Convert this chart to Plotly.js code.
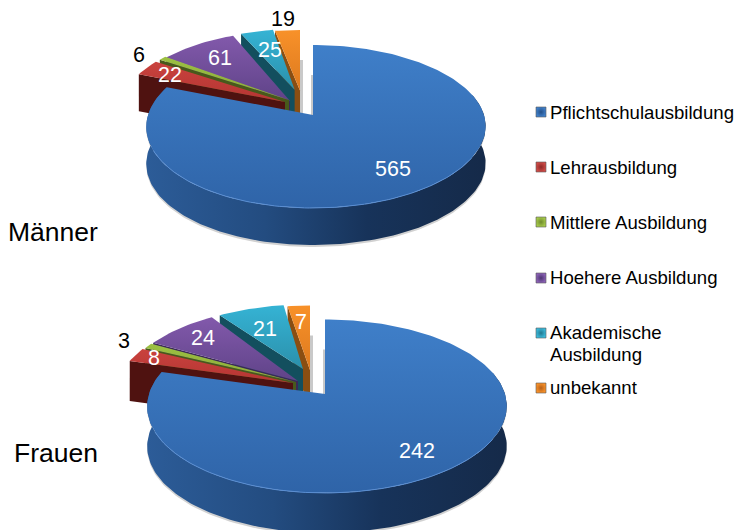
<!DOCTYPE html>
<html><head><meta charset="utf-8">
<script src="https://cdn.plot.ly/plotly-3.0.1.min.js"></script>
<style>html,body{margin:0;padding:0;background:#fff;overflow:hidden}#c{width:737px;height:530px}</style>
</head><body><div id="c"></div>
<script>
// ---- data ----
const categories = ['Pflichtschulausbildung','Lehrausbildung','Mittlere Ausbildung','Hoehere Ausbildung','Akademische<br>Ausbildung','unbekannt'];
const maenner = [565,22,6,61,25,19];
const frauen  = [242,8,3,24,21,7];
const groupLabels = ['Männer','Frauen'];

// ---- styles ----
const topColors = [['#2f64a8','#3f7fc9'],['#b53532','#c9423e'],['#8aab37','#9cc043'],['#5f4388','#8259ab'],['#2b90ab','#35b3d4'],['#dd7a1f','#f89129']];
const faceColors = ['#1d3f6e','#4f1210','#48591b','#3a2957','#134f5e','#8a4e12'];
const legendColors = ['#3f7fc9','#cf4a46','#a5c94a','#8a60b5','#3ab9da','#f89129'];
const legendEdge = ['#244f86','#8c2a28','#6f8a2c','#4d3670','#22778e','#b5601a'];
const persp = 0.141;
const tipR = [0,0,0,0,0.12,0.12];
const pies = [
 {vals:maenner, cx:313, cy:115, R:168, Rk:79.9, bulge:3, depth:37,
  off:[[0,0],[-28,-13],[-24,-15],[-23,-14],[-15,-16],[-13,-15]],
  lab:[[393,169],[170,75],[139,55],[220,58],[270,50],[283,19]], labWhite:[1,1,0,1,1,0]},
 {vals:frauen, cx:325, cy:394, R:178, Rk:85, bulge:2, depth:40,
  off:[[0,0],[-32,-11],[-29,-12],[-27,-13],[-19,-15],[-15,-14]],
  lab:[[417,451],[154,358],[124,341],[203,338],[265,329],[301,322]], labWhite:[1,1,0,1,1,1]}
];
const legendY = [112,167,222,278,333,388];
const legendTextY = [112,167,222,277,[332,354],387];

const traces = [], annotations = [];
const txt = (x,y,t,size,color,extra)=>annotations.push(Object.assign({x,y,text:t,showarrow:false,xref:'x',yref:'y',
  font:{family:'Liberation Sans, Arial, sans-serif',size,color}},extra||{}));

function proj(p,ox,oy,r,deg){
  const a = deg*Math.PI/180, s=Math.sin(a), c=Math.cos(a), w=1+persp*r*c;
  return [p.cx+ox+p.R*r*s/w + p.bulge*r*s*s, p.cy+oy-p.Rk*r*c/w];
}
function arc(p,ox,oy,a0,a1){ const n=Math.max(2,Math.ceil(Math.abs(a1-a0)/1.5)),pts=[];
  for(let i=0;i<=n;i++) pts.push(proj(p,ox,oy,1,a0+(a1-a0)*i/n)); return pts; }
function poly(pts,style){ traces.push(Object.assign({type:'scatter',mode:'lines',x:pts.map(q=>q[0]).concat(pts[0][0]),y:pts.map(q=>q[1]).concat(pts[0][1]),
  fill:'toself',line:{width:0},hoverinfo:'skip',showlegend:false},style)); }

pies.forEach(p=>{
  const depth=p.depth, down = pts=>pts.map(q=>[q[0],q[1]+depth]).reverse();
  const total = p.vals.reduce((a,b)=>a+b,0);
  // angles: first slice runs clockwise from 12 o'clock, the rest follow
  let ang=[0]; p.vals.forEach(v=>ang.push(ang[ang.length-1]+v/total*360));
  // thin grey shadows behind the gaps
  const last=p.vals.length-1, oTop=proj(p,p.off[last][0],p.off[last][1],1,360), bTop=proj(p,0,0,1,0);
  poly([[oTop[0],oTop[1]+30],[oTop[0]+3,oTop[1]+30],[oTop[0]+3,p.cy],[oTop[0],p.cy]],{fillcolor:'#c9c9c9'});
  poly([[bTop[0]-2,bTop[1]+30],[bTop[0],bTop[1]+30],[bTop[0],p.cy],[bTop[0]-2,p.cy]],{fillcolor:'#c9c9c9'});
  // draw back slices from the last one to the first
  for(let i=last;i>=1;i--){
    const [ox,oy]=p.off[i], a0=ang[i], a1=ang[i+1];
    const tip=proj(p,ox,oy,tipR[i],a1), rimStart=proj(p,ox,oy,1,a0);
    poly([tip,rimStart,[rimStart[0],rimStart[1]+depth],[tip[0],tip[1]+depth]],{fillcolor:faceColors[i]});
    poly([tip].concat(arc(p,ox,oy,a0,a1)),{fillgradient:{type:'vertical',colorscale:[[0,topColors[i][0]],[1,topColors[i][1]]]}});
  }
  // main slice
  const a0=ang[0], a1=ang[1], rim=arc(p,0,0,a0,a1);
  const wallArc=arc(p,0,0,75,a1>270?a1:270);
  poly(wallArc.map(q=>[q[0],q[1]+2]).concat(down(wallArc).map(q=>[q[0],q[1]+2])),{fillcolor:'rgba(90,90,90,0.28)'});
  poly(wallArc.concat(down(wallArc)),{fillgradient:{type:'horizontal',colorscale:[[0,'#2c5c98'],[0.35,'#234c80'],[0.65,'#17335a'],[1,'#152a49']]}});
  poly([proj(p,0,0,0,0)].concat(rim),{fillgradient:{type:'vertical',colorscale:[[0,'#2f64a8'],[1,'#3f7fc9']]}});
  const hl=arc(p,0,0,120,245);
  traces.push({type:'scatter',mode:'lines',x:hl.map(q=>q[0]),y:hl.map(q=>q[1]),line:{color:'#5a8ed2',width:1},hoverinfo:'skip',showlegend:false});
  p.vals.forEach((v,i)=>txt(p.lab[i][0],p.lab[i][1],String(v),21.5,p.labWhite[i]?'#ffffff':'#000000'));
});
txt(53,232,groupLabels[0],26.5,'#000000');
txt(56,453,groupLabels[1],26.5,'#000000');

// legend drawn with the library's markers and text
traces.push({type:'scatter',mode:'markers',x:legendY.map(()=>541),y:legendY,hoverinfo:'skip',showlegend:false,
  marker:{symbol:'square',size:10,color:legendColors,gradient:{type:'radial',color:legendEdge},line:{color:'rgba(90,90,90,0.6)',width:1}}});
categories.forEach((c,i)=>{
  const parts=c.split('<br>'), ys=[].concat(legendTextY[i]);
  parts.forEach((t,j)=>txt(548,ys[j],t,18.6,'#000000',{xanchor:'left',align:'left'}));
});

Plotly.newPlot('c',traces,{
  width:737,height:530,margin:{l:0,r:0,t:0,b:0},paper_bgcolor:'#ffffff',plot_bgcolor:'#ffffff',showlegend:false,hovermode:false,
  xaxis:{range:[0,737],visible:false,fixedrange:true},
  yaxis:{range:[530,0],visible:false,fixedrange:true},
  annotations
},{displayModeBar:false,staticPlot:true});
</script></body></html>
